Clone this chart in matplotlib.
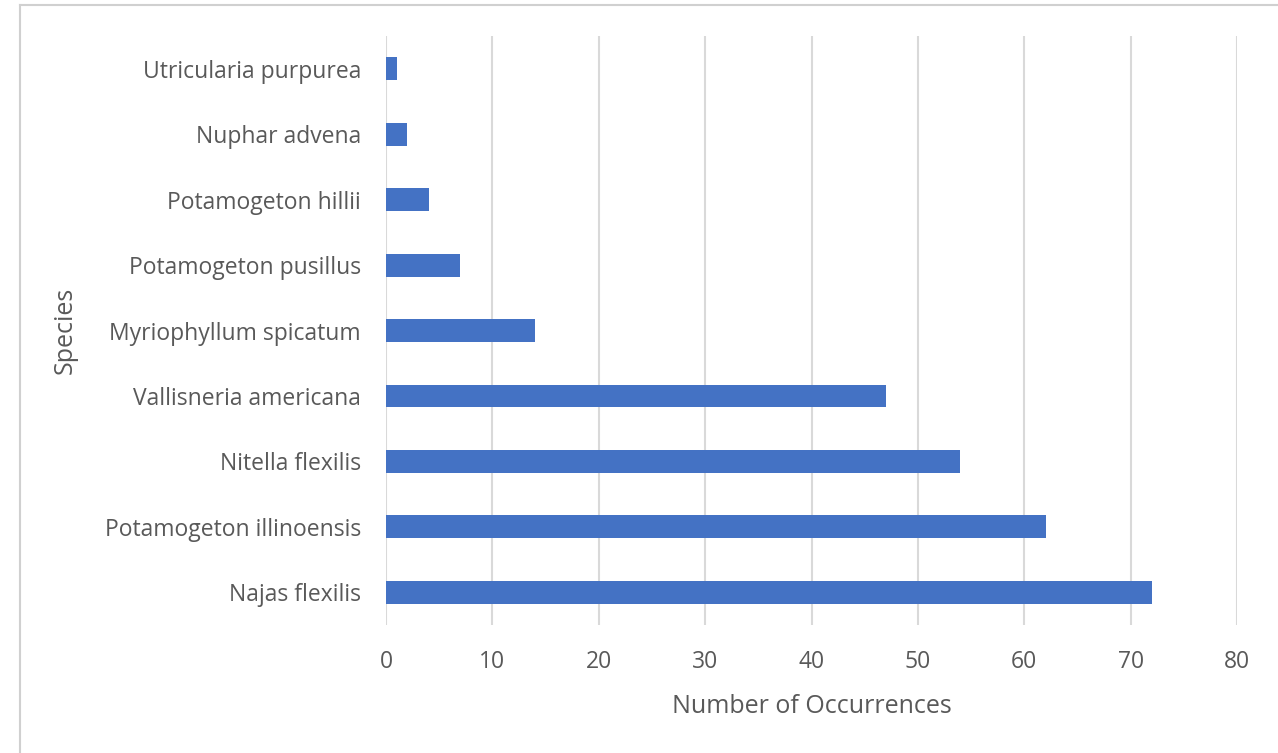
import matplotlib
matplotlib.use("Agg")
import matplotlib.pyplot as plt
from matplotlib.lines import Line2D

species = [
    "Najas flexilis",
    "Potamogeton illinoensis",
    "Nitella flexilis",
    "Vallisneria americana",
    "Myriophyllum spicatum",
    "Potamogeton pusillus",
    "Potamogeton hillii",
    "Nuphar advena",
    "Utricularia purpurea",
]
occurrences = [72, 62, 54, 47, 14, 7, 4, 2, 1]
x_ticks = [0, 10, 20, 30, 40, 50, 60, 70, 80]

plt.rcParams["font.family"] = ["Open Sans", "DejaVu Sans"]
text_color = "#595959"
bar_color = "#4472C4"
grid_color = "#D9D9D9"

fig = plt.figure(figsize=(12.78, 7.53), dpi=100)
ax = fig.add_axes([0.302, 0.170, 0.666, 0.782])

ypos = list(range(len(species)))
ax.barh(ypos, occurrences, height=0.35, color=bar_color, zorder=3)

ax.set_xlim(0, 80)
ax.set_ylim(-0.5, len(species) - 0.5)
ax.set_xticks(x_ticks)
ax.set_xticklabels([str(t) for t in x_ticks])
ax.set_yticks(ypos)
ax.set_yticklabels(species)

ax.grid(axis="x", color=grid_color, linewidth=1.5, zorder=0)
for s in ax.spines.values():
    s.set_visible(False)
ax.tick_params(axis="both", length=0, labelsize=16.5, colors=text_color)
ax.tick_params(axis="y", pad=18)
ax.tick_params(axis="x", pad=18)

ax.set_xlabel("Number of Occurrences", fontsize=18, color=text_color)
ax.set_ylabel("Species", fontsize=18, color=text_color)
ax.xaxis.label.set_va("center")
ax.yaxis.label.set_va("center")
ax.xaxis.set_label_coords(0.5, -0.138)
ax.yaxis.set_label_coords(-0.377, 0.5)

# light frame along the top and left edges of the figure
W, H = 1278, 753
fig.add_artist(Line2D([20 / W, 1.0], [1 - 5 / H, 1 - 5 / H], transform=fig.transFigure,
                      color="#D0D0D0", linewidth=1.5))
fig.add_artist(Line2D([20 / W, 20 / W], [0.0, 1 - 5 / H], transform=fig.transFigure,
                      color="#D0D0D0", linewidth=1.5))

fig.savefig("out.png", dpi=100, facecolor="white")
